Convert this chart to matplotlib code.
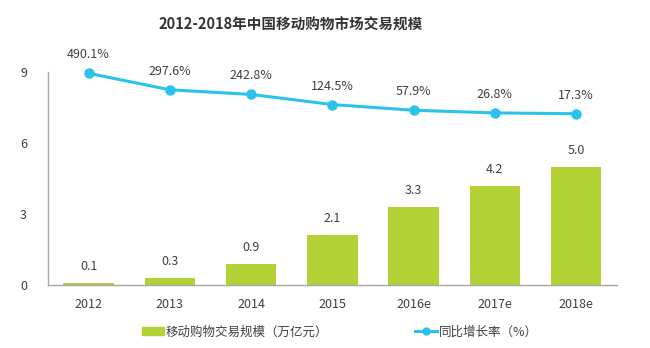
import numpy as np
import matplotlib.pyplot as plt
from matplotlib.patches import Patch
from matplotlib.lines import Line2D

plt.rcParams['font.family'] = ['Noto Sans CJK SC', 'DejaVu Sans']

years = ['2012', '2013', '2014', '2015', '2016e', '2017e', '2018e']
scale = [0.1, 0.3, 0.9, 2.1, 3.3, 4.2, 5.0]          # 万亿元
growth = [490.1, 297.6, 242.8, 124.5, 57.9, 26.8, 17.3]  # %

green = '#b2d235'
cyan = '#2cc3ea'
text_c = '#404040'
axis_c = '#a6a6a6'

fig = plt.figure(figsize=(6.5, 3.48), dpi=100)
ax = fig.add_axes([0.0738, 0.181, 0.875, 0.612])
x = np.arange(len(years))

ax.bar(x, scale, width=0.62, color=green, zorder=2)
for xi, v in zip(x, scale):
    ax.text(xi, v + 0.42, f'{v:.1f}', ha='center', va='bottom',
            fontsize=9, color=text_c)

ax.set_xlim(-0.5, len(years) - 0.5)
ax.set_ylim(0, 9)
ax.set_yticks([0, 3, 6, 9])
ax.set_xticks(x)
ax.set_xticklabels(years)
ax.tick_params(length=0, labelsize=9, labelcolor=text_c)
ax.tick_params(axis='y', pad=15)
ax.tick_params(axis='x', pad=9)
for s in ['top', 'right']:
    ax.spines[s].set_visible(False)
for s in ['left', 'bottom']:
    ax.spines[s].set_color(axis_c)
    ax.spines[s].set_linewidth(1.0)

# growth rate on a hidden secondary axis
ax2 = ax.twinx()
ax2.plot(x, growth, color=cyan, lw=2.2, marker='o', ms=6.5, clip_on=False, zorder=3)
ax2.set_ylim(-1987, 505)
ax2.axis('off')
for xi, g in zip(x, growth):
    ax2.text(xi, g + 140, f'{g:.1f}%', ha='center', va='bottom',
             fontsize=9, color=text_c)

fig.text(0.447, 0.93, '2012-2018年中国移动购物市场交易规模', ha='center', va='center',
         fontsize=10.5, fontweight='bold', color='#333333')

handles = [Patch(color=green),
           Line2D([], [], color=cyan, lw=2.2, marker='o', ms=5)]
labels = ['移动购物交易规模（万亿元）', '同比增长率（%）']
fig.legend(handles, labels, loc='center', bbox_to_anchor=(0.523, 0.046), ncol=2,
           frameon=False, fontsize=9, handlelength=1.7, handleheight=0.6,
           handletextpad=0.15, columnspacing=7.0, labelcolor=text_c)

fig.savefig('out.png', dpi=100)
